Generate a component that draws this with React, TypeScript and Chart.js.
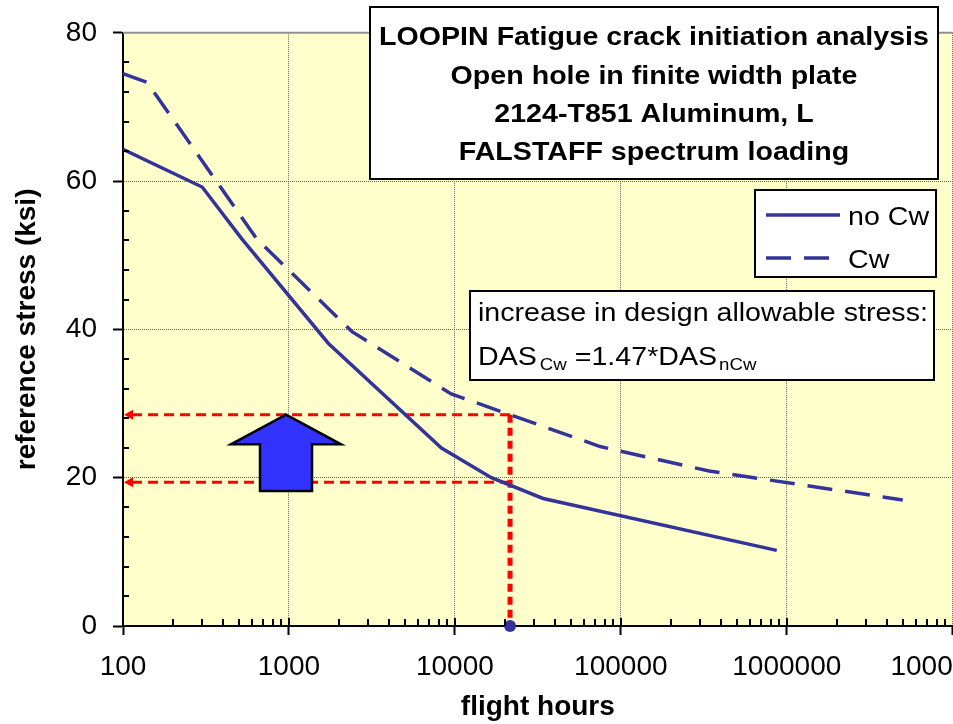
import React, { useEffect, useRef } from 'react';
import { Chart, registerables } from 'chart.js';

Chart.register(...registerables);

// ---- data ----
const flightHoursNoCw = [100, 300, 520, 1730, 8300, 16600, 34000, 870000];
const stressNoCw = [64.3, 59.2, 52.2, 38.1, 24.0, 20.0, 17.2, 10.2];

const flightHoursCw = [100, 140, 640, 2400, 9500, 75000, 340000, 5000000];
const stressCw = [74.5, 73.3, 52.2, 39.7, 31.3, 24.2, 20.9, 17.0];

const xTickValues = [100, 1000, 10000, 100000, 1000000, 10000000];
const yTickValues = [0, 20, 40, 60, 80];

const seriesLabels = ['no Cw', 'Cw'];

// design point annotation
const designLife = 21500;
const dasNoCw = 19.4;
const dasCw = 28.5;
const arrowHours = 960;
const arrowBase = 18.2;
const arrowHeadBase = 24.5;

const titleLines = [
  'LOOPIN Fatigue crack initiation analysis',
  'Open hole in finite width plate',
  '2124-T851 Aluminum, L',
  'FALSTAFF spectrum loading',
];
const noteLine1 = 'increase in design allowable stress:';
const noteParts = ['DAS', 'Cw', ' =1.47*DAS', 'nCw'];

const NAVY = '#333399';
const RED = '#FF0000';
const GRID = '#666666';
const FONT = "'Liberation Sans', Arial, sans-serif";

function txt(ctx: CanvasRenderingContext2D, s: string, x: number, y: number, size: number, bold: boolean, align: CanvasTextAlign = 'left', sx = 1.1) {
  ctx.save();
  ctx.font = `${bold ? 'bold ' : ''}${size}px ${FONT}`;
  ctx.textAlign = align;
  ctx.textBaseline = 'alphabetic';
  ctx.fillStyle = '#000';
  ctx.translate(x, y);
  ctx.scale(sx, 1);
  ctx.fillText(s, 0, 0);
  const w = ctx.measureText(s).width * sx;
  ctx.restore();
  return w;
}

function box(ctx: CanvasRenderingContext2D, x1: number, y1: number, x2: number, y2: number) {
  ctx.save();
  ctx.fillStyle = '#fff';
  ctx.fillRect(x1, y1, x2 - x1, y2 - y1);
  ctx.strokeStyle = '#000';
  ctx.lineWidth = 2;
  ctx.strokeRect(x1, y1, x2 - x1, y2 - y1);
  ctx.restore();
}

const annotPlugin = {
  id: 'annot',
  beforeDraw(chart: any) {
    const { ctx, chartArea: a } = chart;
    ctx.save();
    ctx.fillStyle = '#FFFFCC';
    ctx.fillRect(a.left, a.top, a.right - a.left, a.bottom - a.top);
    ctx.restore();
  },
  beforeDatasetsDraw(chart: any) {
    const { ctx, chartArea: a } = chart;
    const xs = chart.scales.x;
    const ys = chart.scales.y;
    // top border of plot
    ctx.save();
    ctx.strokeStyle = '#909090';
    ctx.lineWidth = 2;
    ctx.beginPath();
    ctx.moveTo(a.left, a.top);
    ctx.lineTo(a.right, a.top);
    ctx.stroke();
    ctx.restore();

    // red dashed arrows
    const xd = xs.getPixelForValue(designLife);
    const yU = ys.getPixelForValue(dasCw);
    const yL = ys.getPixelForValue(dasNoCw);
    const y0 = ys.getPixelForValue(0);
    ctx.save();
    ctx.strokeStyle = RED;
    ctx.fillStyle = RED;
    ctx.lineWidth = 3;
    ctx.setLineDash([10, 6]);
    for (const y of [yU, yL]) {
      ctx.beginPath();
      ctx.moveTo(xd, y);
      ctx.lineTo(a.left + 8, y);
      ctx.stroke();
      ctx.beginPath();
      ctx.moveTo(a.left + 1, y);
      ctx.lineTo(a.left + 10, y - 5);
      ctx.lineTo(a.left + 10, y + 5);
      ctx.closePath();
      ctx.fill();
    }
    ctx.lineWidth = 5;
    ctx.setLineDash([8, 5]);
    ctx.beginPath();
    ctx.moveTo(xd, yU);
    ctx.lineTo(xd, y0);
    ctx.stroke();
    ctx.restore();

    // blue arrow
    const cx = xs.getPixelForValue(arrowHours);
    const tipY = ys.getPixelForValue(dasCw);
    const headY = ys.getPixelForValue(arrowHeadBase);
    const baseY = ys.getPixelForValue(arrowBase);
    ctx.save();
    ctx.beginPath();
    ctx.moveTo(cx, tipY);
    ctx.lineTo(cx + 55, headY);
    ctx.lineTo(cx + 26, headY);
    ctx.lineTo(cx + 26, baseY);
    ctx.lineTo(cx - 26, baseY);
    ctx.lineTo(cx - 26, headY);
    ctx.lineTo(cx - 55, headY);
    ctx.closePath();
    ctx.fillStyle = '#3333FF';
    ctx.fill();
    ctx.lineWidth = 2.5;
    ctx.strokeStyle = '#000';
    ctx.lineJoin = 'miter';
    ctx.stroke();
    ctx.restore();
  },
  afterDraw(chart: any) {
    const { ctx, chartArea: a } = chart;
    const xs = chart.scales.x;
    const ys = chart.scales.y;
    // minor ticks (inside)
    ctx.save();
    ctx.strokeStyle = '#000';
    ctx.lineWidth = 2;
    ctx.beginPath();
    for (let e = 2; e <= 6; e++) {
      for (let m = 1; m <= 9; m++) {
        const v = m * Math.pow(10, e);
        const px = Math.round(xs.getPixelForValue(v));
        const len = m === 1 ? 8 : 7;
        ctx.moveTo(px, a.bottom);
        ctx.lineTo(px, a.bottom - len);
      }
    }
    for (let v = 4; v < 80; v += 4) {
      if (v % 20 === 0) continue;
      const py = Math.round(ys.getPixelForValue(v));
      ctx.moveTo(a.left, py);
      ctx.lineTo(a.left + 6, py);
    }
    ctx.stroke();
    ctx.restore();

    // title box
    box(ctx, 370, 7, 938, 179);
    const baselines = [45, 83.5, 121.5, 160];
    titleLines.forEach((s, i) => txt(ctx, s, 654, baselines[i], 26, true, 'center'));

    // legend box
    box(ctx, 755, 190, 936, 277);
    const ds = chart.data.datasets;
    const legendY = [215, 258];
    for (let i = 0; i < 2; i++) {
      ctx.save();
      ctx.strokeStyle = ds[i].borderColor;
      ctx.lineWidth = 3.5;
      ctx.setLineDash(ds[i].borderDash || []);
      ctx.beginPath();
      ctx.moveTo(766, legendY[i]);
      ctx.lineTo(840, legendY[i]);
      ctx.stroke();
      ctx.restore();
      txt(ctx, ds[i].label, 848, legendY[i] + 10, 26, false, 'left');
    }

    // note box
    box(ctx, 470, 291, 934, 380);
    txt(ctx, noteLine1, 478, 321, 26, false, 'left');
    let x = 478;
    x += txt(ctx, noteParts[0], x, 365, 26, false, 'left');
    x += 3;
    x += txt(ctx, noteParts[1], x, 370, 17, false, 'left');
    x += txt(ctx, noteParts[2], x, 365, 26, false, 'left');
    x += 2;
    txt(ctx, noteParts[3], x, 370, 17, false, 'left');
  },
};

export default function App() {
  const ref = useRef<HTMLCanvasElement>(null);
  useEffect(() => {
    document.body.style.margin = '0';
    const canvas = ref.current!;
    Chart.defaults.font.family = FONT;
    const chart = new Chart(canvas, {
      type: 'line',
      data: {
        datasets: [
          {
            label: seriesLabels[0],
            data: flightHoursNoCw.map((x, i) => ({ x, y: stressNoCw[i] })),
            borderColor: NAVY,
            borderWidth: 3.5,
            pointRadius: 0,
            tension: 0,
            fill: false,
          },
          {
            label: seriesLabels[1],
            data: flightHoursCw.map((x, i) => ({ x, y: stressCw[i] })),
            borderColor: NAVY,
            borderWidth: 3.5,
            borderDash: [25, 13],
            pointRadius: 0,
            tension: 0,
            fill: false,
          },
          {
            label: 'design life',
            data: [{ x: designLife, y: 0 }],
            showLine: false,
            pointRadius: 6,
            pointBackgroundColor: NAVY,
            pointBorderWidth: 0,
            borderColor: NAVY,
            clip: false,
          } as any,
        ],
      },
      options: {
        responsive: false,
        animation: false,
        devicePixelRatio: 1,
        layout: { padding: { left: 0, top: 32, right: 77, bottom: 0 } },
        plugins: { legend: { display: false }, tooltip: { enabled: false } },
        scales: {
          x: {
            type: 'logarithmic',
            min: xTickValues[0],
            max: xTickValues[xTickValues.length - 1],
            afterBuildTicks: (s: any) => {
              s.ticks = xTickValues.map((v) => ({ value: v }));
            },
            afterFit: (s: any) => {
              s.height = 98;
            },
            ticks: {
              callback: (v: any) => String(v),
              font: { size: 28 },
              color: '#000',
              padding: 15,
              maxRotation: 0,
              autoSkip: false,
            },
            grid: { color: GRID, lineWidth: 1, tickLength: 9, tickColor: '#000', tickWidth: 2 },
            border: { color: '#000', width: 2, dash: [1, 1] },
            title: {
              display: true,
              text: 'flight hours',
              font: { size: 28, weight: 'bold' },
              color: '#000',
              padding: { top: 0, bottom: 0 },
            },
          } as any,
          y: {
            type: 'linear',
            min: 0,
            max: 80,
            afterBuildTicks: (s: any) => {
              s.ticks = yTickValues.map((v) => ({ value: v }));
            },
            afterFit: (s: any) => {
              s.width = 123;
            },
            ticks: { font: { size: 28 }, color: '#000', padding: 16 },
            grid: { color: GRID, lineWidth: 1, tickLength: 10, tickColor: '#000', tickWidth: 2 },
            border: { color: '#000', width: 2, dash: [1, 1] },
            title: {
              display: true,
              text: 'reference stress (ksi)',
              font: { size: 28, weight: 'bold' },
              color: '#000',
              padding: { top: 10, bottom: 0 },
            },
          } as any,
        },
      },
      plugins: [annotPlugin],
    });
    return () => chart.destroy();
  }, []);
  return (
    <div style={{ position: 'fixed', left: 0, top: 0, width: 953, height: 724, overflow: 'hidden', background: '#fff' }}>
      <canvas ref={ref} width={1030} height={724} style={{ display: 'block' }} />
    </div>
  );
}
